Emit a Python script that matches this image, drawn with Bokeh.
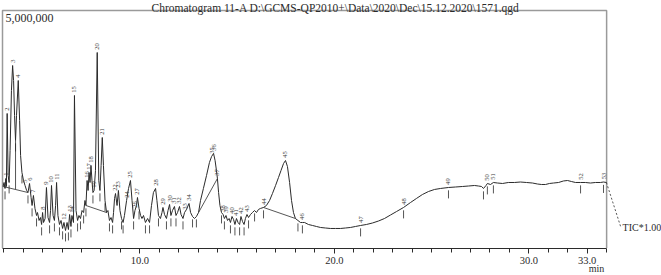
import numpy as np
from bokeh.plotting import figure
from bokeh.models import Range1d, FixedTicker, NumeralTickFormatter, LabelSet, ColumnDataSource
from bokeh.core.properties import value
from bokeh.embed import file_html
from bokeh.resources import INLINE

TITLE = r"Chromatogram 11-A D:\GCMS-QP2010+\Data\2020\Dec\15.12.2020\1571.qgd"
Y_LABEL = "5,000,000"
X_UNIT = "min"
TIC_TEXT = "TIC*1.00"

RT_START, RT_END = 2.94, 34.0
Y_FULL = 5_000_000
major_ticks = [10.0, 20.0, 30.0, 33.0]
minor_ticks = list(range(3, 35))

# retention time (min) / TIC intensity (thousands of counts)
rt = [2.97, 3.02, 3.07, 3.11, 3.14, 3.18, 3.23, 3.28, 3.33, 3.40, 3.46, 3.51, 3.56, 3.61, 3.66, 3.75,
      3.82, 3.87, 3.94, 4.02, 4.10, 4.18, 4.25, 4.33, 4.41, 4.46, 4.53, 4.61, 4.69, 4.74, 4.82, 4.89,
      4.95, 5.00, 5.05, 5.13, 5.20, 5.28, 5.36, 5.41, 5.46, 5.54, 5.61, 5.67, 5.72, 5.79, 5.87, 5.95,
      6.03, 6.10, 6.18, 6.26, 6.33, 6.39, 6.46, 6.51, 6.59, 6.64, 6.72, 6.80, 6.87, 6.95, 7.03, 7.11,
      7.18, 7.23, 7.29, 7.34, 7.39, 7.44, 7.49, 7.54, 7.59, 7.65, 7.72, 7.81, 7.89, 7.95, 8.01, 8.07,
      8.13, 8.21, 8.29, 8.36, 8.44, 8.52, 8.60, 8.65, 8.70, 8.75, 8.83, 8.90, 8.98, 9.06, 9.14, 9.21,
      9.32, 9.42, 9.52, 9.60, 9.68, 9.75, 9.83, 9.88, 9.96, 10.04, 10.11, 10.19, 10.29, 10.40, 10.50,
      10.60, 10.70, 10.81, 10.88, 10.96, 11.06, 11.14, 11.19, 11.27, 11.37, 11.45, 11.53, 11.60, 11.68,
      11.78, 11.86, 11.94, 12.04, 12.12, 12.22, 12.30, 12.40, 12.53, 12.61, 12.71, 12.81, 12.91, 13.02,
      13.12, 13.27, 13.43, 13.58, 13.69, 13.79, 13.87, 13.94, 13.99, 14.05, 14.12, 14.20, 14.28, 14.35,
      14.43, 14.51, 14.59, 14.66, 14.74, 14.82, 14.89, 14.97, 15.05, 15.13, 15.20, 15.28, 15.36, 15.43,
      15.51, 15.59, 15.69, 15.79, 15.90, 16.00, 16.10, 16.20, 16.36, 16.51, 16.67, 16.82, 16.98, 17.13,
      17.26, 17.39, 17.49, 17.59, 17.70, 17.80, 17.90, 18.00, 18.13, 18.26, 18.36, 18.47, 18.67, 18.88,
      19.08, 19.29, 19.55, 19.80, 20.06, 20.32, 20.57, 20.83, 21.09, 21.35, 21.65, 21.96, 22.27, 22.58,
      22.89, 23.20, 23.56, 23.92, 24.22, 24.53, 24.84, 25.15, 25.46, 25.87, 26.23, 26.59, 26.90, 27.21,
      27.41, 27.57, 27.67, 27.80, 27.87, 28.03, 28.18, 28.39, 28.65, 28.95, 29.26, 29.57, 29.88, 30.19,
      30.45, 30.65, 30.86, 31.06, 31.27, 31.53, 31.78, 31.99, 32.19, 32.40, 32.66, 32.91, 33.17, 33.43,
      33.68, 33.84, 33.99]
tic_k = [1295, 1379, 1253, 1463, 1295, 2832, 1526, 1379, 2053, 3316, 3842, 3526, 2789, 2263, 2789, 3526,
         2684, 1947, 1589, 1421, 1316, 1211, 1168, 1358, 1063, 895, 1105, 832, 684, 747, 579, 642,
         495, 747, 537, 621, 1274, 642, 537, 789, 1316, 684, 579, 895, 1379, 684, 495, 579,
         411, 537, 368, 537, 389, 705, 453, 684, 537, 3211, 789, 579, 684, 621, 789, 747,
         1000, 895, 1421, 1211, 1589, 1379, 1737, 1421, 1168, 1211, 1632, 4116, 1421, 1211, 1737, 2326,
         1737, 1000, 747, 789, 579, 642, 537, 747, 1042, 1147, 895, 1211, 789, 621, 537, 684,
         1000, 1253, 1421, 1000, 621, 789, 895, 1063, 832, 684, 621, 684, 537, 621, 537,
         895, 1168, 1253, 1000, 684, 621, 747, 853, 705, 621, 789, 916, 684, 789,
         874, 684, 747, 874, 705, 621, 747, 811, 937, 747, 663, 621, 663, 747,
         1000, 1253, 1526, 1800, 1926, 1990, 1842, 1632, 1463, 1168, 895, 747, 705, 621,
         684, 579, 621, 537, 663, 600, 495, 621, 537, 495, 663, 558, 495, 621,
         705, 642, 705, 747, 789, 747, 811, 832, 853, 895, 1000, 1147, 1316, 1484,
         1632, 1779, 1842, 1716, 1379, 1000, 747, 621, 579, 537, 537, 537, 495, 474,
         453, 432, 421, 411, 411, 411, 421, 432, 453, 474, 495, 526, 568, 621,
         695, 768, 853, 958, 1042, 1126, 1189, 1232, 1253, 1274, 1284, 1295, 1305, 1316,
         1305, 1295, 1253, 1316, 1358, 1337, 1379, 1368, 1358, 1379, 1379, 1389, 1379, 1368,
         1347, 1337, 1337, 1358, 1368, 1379, 1411, 1421, 1400, 1379, 1379, 1379, 1368, 1379,
         1379, 1389, 1379]

# peak table: number, apex retention time, apex height (thousands)
peak_no = [str(i) for i in range(1, 54)]
peak_rt = [3.11, 3.18, 3.46, 3.75, 4.10, 4.33, 4.53, 5.00, 5.20, 5.46, 5.72, 6.10, 6.39, 6.51, 6.64,
           7.29, 7.39, 7.49, 7.65, 7.81, 8.07, 8.75, 8.90, 9.32, 9.52, 9.75, 9.88, 10.81, 11.19, 11.53,
           11.78, 12.04, 12.30, 12.53, 13.69, 13.79, 13.99, 14.28, 14.43, 14.74, 14.97, 15.20, 15.51,
           16.36, 17.49, 18.36, 21.35, 23.56, 25.87, 27.87, 28.18, 32.66, 33.84]
peak_top_k = [1463, 2832, 3842, 3526, 1316, 1358, 1105, 747, 1274, 1316, 1379, 537, 705, 684, 3211,
              1421, 1589, 1737, 1211, 4116, 2326, 1147, 1211, 1000, 1421, 789, 1063, 1253, 853, 916,
              874, 874, 747, 937, 1926, 1990, 1463, 705, 684, 663, 621, 663, 705,
              853, 1842, 537, 474, 853, 1274, 1358, 1379, 1379, 1389]

# peak start / end markers (min)
marker_rt = [3.07, 3.28, 3.61, 3.94, 4.25, 4.46, 4.69, 4.95, 5.36, 5.61, 5.87, 6.03, 6.18, 6.33, 6.46,
             6.80, 6.95, 7.11, 7.23, 7.59, 7.95, 8.21, 8.44, 8.60, 9.06, 9.14, 9.68, 9.96, 10.29, 10.50,
             10.96, 11.37, 11.60, 11.86, 12.22, 12.71, 12.91, 14.20, 14.35, 14.66, 14.89, 15.13, 15.36,
             15.59, 15.90, 16.36, 18.13, 18.36, 21.35, 23.56, 25.87, 27.67, 27.87, 28.18, 32.66, 33.84]

# integration baselines (start rt, start k, end rt, end k)
base_rt0 = [2.97, 7.23, 13.02, 16.36]
base_k0 = [1295, 895, 747, 853]
base_rt1 = [4.25, 8.29, 13.99, 18.00]
base_k1 = [1168, 747, 1463, 621]
drop_rt = [3.61]
drop_top_k = [2263]
drop_bot_k = [1242]

# TIC lead-out: end point of the dashed leader and text anchor
lead_rt, lead_k = 34.72, 452
tic_text_rt, tic_text_k = 34.82, 432

# ---------- figure ----------
W, H = 661, 275
PX_X = 19.45               # px per minute
PX_Y = Y_FULL / 237.5      # counts per px
x0 = RT_START - 2 / PX_X
x1 = x0 + W / PX_X
y1 = Y_FULL + 10 * PX_Y
y0 = -(H - 247.5) * PX_Y

p = figure(width=W, height=H, output_backend="svg", toolbar_location=None,
           x_range=Range1d(x0, x1), y_range=Range1d(y0, y1), y_axis_location=None,
           min_border=0, min_border_left=0, min_border_right=0, min_border_top=0, min_border_bottom=0)
p.outline_line_color = None
p.grid.visible = False
p.background_fill_color = "white"
p.border_fill_color = "white"

SERIF = "Liberation Serif"
INK = "#2b2b2b"
FRAME = "#9a9a9a"

# frame box
p.line([RT_START, RT_START, RT_END, RT_END], [0, Y_FULL, Y_FULL, 0], line_color=FRAME, line_width=1.5)

tic = [v * 1000 for v in tic_k]
# baselines
p.segment(x0=base_rt0, y0=[v * 1000 for v in base_k0], x1=base_rt1, y1=[v * 1000 for v in base_k1],
          line_color=INK, line_width=0.8)
p.segment(x0=drop_rt, y0=[v * 1000 for v in drop_top_k], x1=drop_rt, y1=[v * 1000 for v in drop_bot_k],
          line_color=INK, line_width=0.8)
# trace
p.line(rt, tic, line_color=INK, line_width=1)

# peak markers
m_y = np.interp(marker_rt, rt, tic)
p.segment(x0=marker_rt, y0=m_y - 60_000, x1=marker_rt, y1=m_y - 230_000, line_color=INK, line_width=0.8)

# peak number labels
lab_src = ColumnDataSource(dict(x=peak_rt, y=[v * 1000 + 60_000 for v in peak_top_k], t=peak_no))
p.add_layout(LabelSet(x="x", y="y", text="t", source=lab_src, angle=np.pi / 2,
                      text_align="left", text_baseline="middle", text_font=value(SERIF),
                      text_font_size=value("6.5px"), text_color="#3a3a3a"))

# title and y full-scale label
p.text(x=[20.06], y=[Y_FULL + 3 * PX_Y], text=[TITLE], text_align="center",
       text_baseline="alphabetic", text_font=value(SERIF), text_font_size="11.5px", text_color=INK)
p.text(x=[RT_START + 0.15], y=[Y_FULL - 3.5 * PX_Y], text=[Y_LABEL], text_align="left",
       text_baseline="top", text_font=value(SERIF), text_font_size="12px", text_color=INK)

# TIC lead line and text
p.line([rt[-1], lead_rt], [tic[-1], lead_k * 1000], line_color=INK, line_dash="2 2", line_width=0.8)
p.text(x=[tic_text_rt], y=[tic_text_k * 1000], text=[TIC_TEXT], text_align="left", text_baseline="middle",
       text_font=value(SERIF), text_font_size="10px", text_color=INK)

# x axis
ax = p.xaxis[0]
ax.fixed_location = 0
ax.bounds = (RT_START, RT_END)
ax.ticker = FixedTicker(ticks=major_ticks, minor_ticks=minor_ticks)
ax.formatter = NumeralTickFormatter(format="0.0")
ax.axis_line_color = INK
ax.major_tick_line_color = INK
ax.minor_tick_line_color = INK
ax.major_tick_out = 5
ax.major_tick_in = 0
ax.minor_tick_out = 4
ax.minor_tick_in = 0
ax.major_label_standoff = 4
ax.major_label_text_font = SERIF
ax.major_label_text_font_size = "10.5px"
ax.major_label_text_color = INK

p.text(x=[33.48], y=[-(268 - 247.5) * PX_Y], text=[X_UNIT], text_align="center", text_baseline="middle",
       text_font=value(SERIF), text_font_size="10px", text_color=INK)

open("out.html", "w").write(file_html(p, INLINE))
